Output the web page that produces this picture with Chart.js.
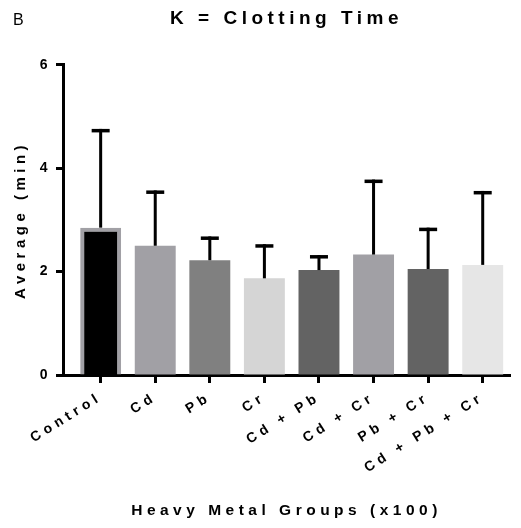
<!doctype html>
<html>
<head>
<title>K = Clotting Time</title>
<script src="https://cdn.jsdelivr.net/npm/chart.js@4"></script>
<style>
	body { margin: 0; background: #fff; }
	canvas { display: block; }
</style>
</head>
<body>
<canvas id="canvas" width="521" height="528"></canvas>
<script>
// values (mean and upper SD, minutes)
var groups = ['Control', 'Cd', 'Pb', 'Cr', 'Cd + Pb', 'Cd + Cr', 'Pb + Cr', 'Cd + Pb + Cr'];
var means = [2.85, 2.50, 2.22, 1.87, 2.03, 2.33, 2.05, 2.13];
var sds = [1.91, 1.07, 0.46, 0.66, 0.29, 1.45, 0.80, 1.43];
var yTicks = [0, 2, 4, 6];

var fills = ['#000000', '#a1a0a5', '#808080', '#d5d5d5', '#636363', '#a1a0a5', '#636363', '#e6e6e6'];
var edges = ['#a1a0a5', '#a1a0a5', '#808080', '#d5d5d5', '#636363', '#a1a0a5', '#636363', '#e6e6e6'];
var edgeWidths = [4, 0, 0, 0, 0, 0, 0, 0];

var fam = '"Liberation Sans", Arial, sans-serif';

var spacing = {
	id: 'spacing',
	beforeLayout: function(chart) { chart.ctx.letterSpacing = '4.5px'; },
	beforeDraw: function(chart) { chart.ctx.letterSpacing = '4.5px'; }
};

var errorBars = {
	id: 'errorBars',
	afterDatasetsDraw: function(chart) {
		var ctx = chart.ctx, xs = chart.scales.x, ys = chart.scales.y;
		ctx.save();
		ctx.fillStyle = '#000';
		means.forEach(function(m, i) {
			var px = xs.getPixelForValue(i);
			var top = ys.getPixelForValue(m + sds[i]);
			var base = ys.getPixelForValue(m);
			ctx.fillRect(px - 1.5, top, 3, base - top);
			ctx.fillRect(px - 9, top, 18, 3.5);
		});
		ctx.restore();
	}
};

var panelLetter = {
	id: 'panelLetter',
	afterDraw: function(chart) {
		var ctx = chart.ctx;
		ctx.save();
		ctx.letterSpacing = '0px';
		ctx.font = '16px ' + fam;
		ctx.fillStyle = '#000';
		ctx.textBaseline = 'alphabetic';
		ctx.textAlign = 'left';
		ctx.fillText('B', 13, 25);
		ctx.restore();
	}
};

var points = means.map(function(m, i) { return {x: i, y: m}; });

var ctx = document.getElementById('canvas').getContext('2d');
new Chart(ctx, {
	type: 'bar',
	data: {
		datasets: [{
			data: points,
			backgroundColor: fills,
			borderColor: edges,
			borderWidth: edgeWidths,
			categoryPercentage: 1,
			barPercentage: 0.75
		}]
	},
	options: {
		responsive: false,
		animation: false,
		layout: { padding: { left: 0, right: 11, top: 0, bottom: 0 } },
		plugins: {
			legend: { display: false },
			tooltip: { enabled: false },
			title: {
				display: true,
				fullSize: false,
				text: 'K = Clotting Time',
				color: '#000',
				font: { family: fam, size: 19, weight: 'bold' },
				padding: { top: 7, bottom: 35 }
			}
		},
		scales: {
			x: {
				type: 'linear',
				offset: false,
				min: -0.69,
				max: 7.5,
				z: 1,
				border: { display: true, color: '#000', width: 3 },
				grid: { display: true, offset: false, drawOnChartArea: false, drawTicks: true, tickLength: 8, tickWidth: 3, tickColor: '#000' },
				ticks: {
					stepSize: 1,
					includeBounds: false,
					autoSkip: false,
					minRotation: 32,
					maxRotation: 32,
					padding: 6,
					color: '#000',
					font: { family: fam, size: 14, weight: 'bold' },
					callback: function(v) { return Number.isInteger(v) ? groups[v] : ''; }
				},
				title: {
					display: true,
					text: 'Heavy Metal Groups (x100)',
					color: '#000',
					font: { family: fam, size: 15.5, weight: 'bold' },
					padding: { top: 0, bottom: 8 }
				},
				afterFit: function(s) { s.height = 153; }
			},
			y: {
				min: 0,
				max: 6,
				z: 1,
				border: { display: true, color: '#000', width: 3 },
				grid: { display: true, drawOnChartArea: false, drawTicks: true, tickLength: 7, tickWidth: 3, tickColor: '#000' },
				ticks: {
					padding: 4,
					color: '#000',
					font: { family: fam, size: 14, weight: 'bold' }
				},
				afterBuildTicks: function(s) { s.ticks = yTicks.map(function(v) { return {value: v}; }); },
				title: {
					display: true,
					text: 'Average (min)',
					color: '#000',
					font: { family: fam, size: 15, weight: 'bold' },
					padding: { top: 12, bottom: 0 }
				},
				afterFit: function(s) { s.width = 63; }
			}
		}
	},
	plugins: [spacing, errorBars, panelLetter]
});
</script>
</body>
</html>
